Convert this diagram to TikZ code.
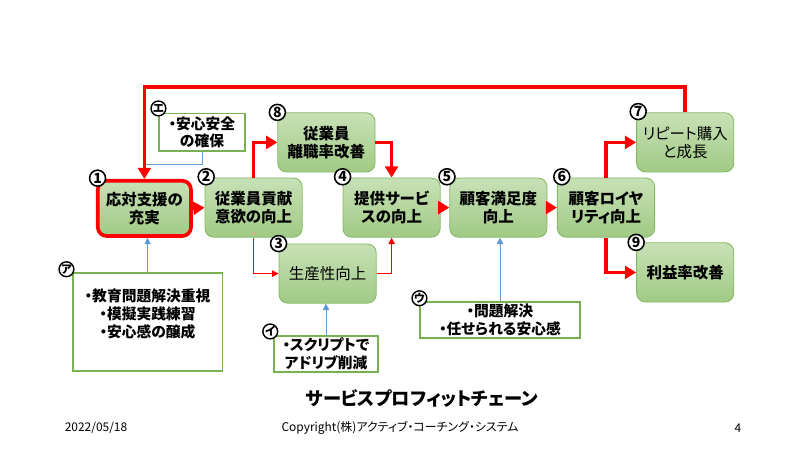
\documentclass[tikz,border=0pt]{standalone}
\usepackage{fontspec}
\setmainfont{Noto Sans CJK JP}[RawFeature=+palt]
\usepackage{tikz}
\usetikzlibrary{shapes,positioning,calc}
\usetikzlibrary{arrows.meta}
\definecolor{boxtop}{RGB}{200,225,183}
\definecolor{boxbottom}{RGB}{160,202,132}
\definecolor{boxline}{RGB}{130,185,100}
\definecolor{memoline}{RGB}{120,178,80}
\definecolor{memoblue}{RGB}{91,155,213}
\tikzstyle{tappa} = [rectangle, rounded corners=0.22cm, minimum width=2.43cm, minimum height=1.48cm,
text centered, align=center, inner sep=1pt, draw=boxline, line width=0.6pt, top color=boxtop, bottom color=boxbottom,
font=\fontsize{11}{13}\selectfont\bfseries]
\tikzstyle{nota} = [rectangle, draw=memoline, line width=0.8pt, fill=white, align=center, inner sep=1pt,
font=\fontsize{10.5}{12.5}\selectfont\bfseries]
\tikzstyle{numero} = [circle, draw=black, line width=1.1pt, fill=white, inner sep=0pt, minimum size=0.4cm,
font=\fontsize{10}{10}\selectfont\bfseries]
\tikzstyle{kana} = [circle, draw=black, line width=1pt, fill=white, inner sep=0pt, minimum size=0.37cm,
font=\fontsize{8}{8}\selectfont\bfseries]
\tikzstyle{arrow} = [red, line width=2.6pt, -{Triangle[length=2.8mm,width=3.2mm]}]
\tikzstyle{thinarrow} = [red, line width=0.7pt, -{Triangle[length=1.6mm,width=1.6mm]}]
\tikzstyle{bluearrow} = [memoblue, line width=0.7pt, -{Triangle[length=1.6mm,width=1.6mm]}]

\begin{document}
\begin{tikzpicture}
	\useasboundingbox (0,0) rectangle (20,11.25);
	% catena
	\node (n1) at (3.61,6.04) [tappa, draw=red, line width=2.6pt, minimum width=2.33cm, minimum height=1.38cm] {応対支援の\\充実};
	\node (n2) at (6.34,6.06) [tappa] {従業員貢献\\意欲の向上};
	\node (n8) at (8.16,7.69) [tappa] {従業員\\離職率改善};
	\node (n3) at (8.19,4.41) [tappa, font=\fontsize{11}{13}\selectfont] {生産性向上};
	\node (n4) at (9.79,6.06) [tappa] {提供サービ\\スの向上};
	\node (n5) at (12.46,6.06) [tappa] {顧客満足度\\向上};
	\node (n6) at (15.15,6.06) [tappa] {顧客ロイヤ\\リティ向上};
	\node (n7) at (17.13,7.69) [tappa, font=\fontsize{11}{13}\selectfont] {リピート購入\\と成長};
	\node (n9) at (17.13,4.44) [tappa] {利益率改善};
	% note
	\node (memoE) at (5.05,7.94) [nota, minimum width=2.15cm, minimum height=0.93cm] {・安心安全\\の確保};
	\node (memoA) at (3.69,3.2) [nota, minimum width=3.73cm, minimum height=2.45cm] {・教育問題解決重視\\・模擬実践練習\\・安心感の醸成\\\mbox{}};
	\node (memoI) at (8.15,2.4) [nota, minimum width=2.6cm, minimum height=0.9cm] {・スクリプトで\\アドリブ削減};
	\node (memoU) at (12.5,3.25) [nota, minimum width=4cm, minimum height=0.9cm] {・問題解決\\・任せられる安心感};
	% frecce blu
	\coordinate (bend) at ($(n1.north)+(0,0.37)$);
	\draw[memoblue, line width=0.7pt] (memoE.south) |- (bend);
	\draw[bluearrow] (memoA.north) -- (memoA.north |- n1.south);
	\draw[bluearrow] (memoI.north) -- (memoI.north |- n3.south);
	\draw[bluearrow] (memoU.north) -- (memoU.north |- n5.south);
	% frecce rosse
	\draw[arrow] (n7.north) -- (n7.north |- 0,9.08) -| (n1.north);
	\draw[arrow] (n1.east) -- (n2.west);
	\draw[arrow] (n2.north) |- (n8.west);
	\draw[arrow] (n8.east) -| (n4.north);
	\draw[arrow] (n4.east) -- (n5.west);
	\draw[arrow] (n5.east) -- (n6.west);
	\draw[arrow] (n6.north) |- (n7.west);
	\draw[arrow] (n6.south) |- (n9.west);
	\draw[thinarrow] (n2.south) |- (n3.west);
	\draw[thinarrow] (n3.east) -| (n4.south);
	% numeri
	\node (c1) at ($(n1.north west)+(0.04,0.02)$) [numero] {1};
	\node (c2) at ($(n2.north west)+(0.04,0.02)$) [numero] {2};
	\node (c3) at ($(n3.north west)+(0.0,0.0)$) [numero] {3};
	\node (c4) at ($(n4.north west)+(0.0,0.02)$) [numero] {4};
	\node (c5) at ($(n5.north west)+(-0.06,0.02)$) [numero] {5};
	\node (c6) at ($(n6.north west)+(0.12,0.02)$) [numero] {6};
	\node (c7) at ($(n7.north west)+(0.05,0.02)$) [numero] {7};
	\node (c8) at ($(n8.north west)+(0.0,0.0)$) [numero] {8};
	\node (c9) at ($(n9.north west)+(0.0,0.0)$) [numero] {9};
	\node (kE) at ($(memoE.north west)+(0.0,0.12)$) [kana] {エ};
	\node (kA) at ($(memoA.north west)+(-0.15,0.08)$) [kana] {ア};
	\node (kI) at ($(memoI.north west)+(-0.08,0.1)$) [kana] {イ};
	\node (kU) at ($(memoU.north west)+(0.0,0.08)$) [kana] {ウ};
	% titolo
	\node (title) at (10.55,1.3) [font=\fontsize{13}{13}\selectfont\bfseries] {サービスプロフィットチェーン};
	\node (date) at (2.4,0.55) [font=\fontsize{8.5}{8.5}\selectfont] {2022/05/18};
	\node (copy) at (10,0.55) [font=\fontsize{8.5}{8.5}\selectfont] {Copyright(株)アクティブ・コーチング・システム};
	\node (page) at (18.45,0.55) [font=\fontsize{8.5}{8.5}\selectfont] {4};
\end{tikzpicture}
\end{document}
